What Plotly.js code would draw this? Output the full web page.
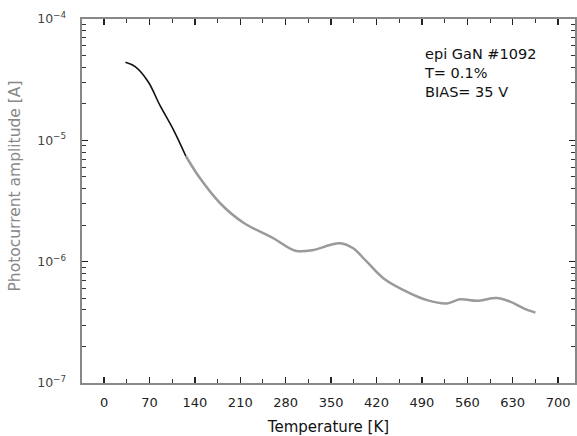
<!DOCTYPE html>
<html>
<head>
<meta charset="utf-8">
<script src="https://cdn.plot.ly/plotly-3.0.1.min.js"></script>
<style>html,body{margin:0;padding:0;background:#fff;}#chart{width:577px;height:436px;}</style>
</head>
<body>
<div id="chart"></div>
<script>
// Low-temperature segment (black)
const tempLow = [33, 48, 68, 86, 107, 126];
const ampLow = [4.40e-5, 4.05e-5, 3.04e-5, 1.95e-5, 1.22e-5, 7.43e-6];
// High-temperature segment (gray)
const tempHigh = [126, 148, 179, 215, 261, 295, 323, 348, 364, 384, 405, 431, 472, 498, 528, 549, 575, 605, 626, 647, 665];
const ampHigh = [7.43e-6, 4.86e-6, 3.03e-6, 2.09e-6, 1.56e-6, 1.23e-6, 1.25e-6, 1.37e-6, 1.42e-6, 1.29e-6, 1.0e-6, 7.28e-7, 5.48e-7, 4.82e-7, 4.53e-7, 4.90e-7, 4.76e-7, 5.01e-7, 4.68e-7, 4.12e-7, 3.80e-7];
const xTickStep = 70;
const yDecadeRange = [-7, -4];
const noteLines = ['epi GaN #1092', 'T= 0.1%', 'BIAS= 35 V'];
const yTitle = 'Photocurrent amplitude [A]';

const traces = [
  {x: tempHigh, y: ampHigh, mode: 'lines', line: {color: '#9a9a9a', width: 2.5, shape: 'spline'}, hoverinfo: 'skip'},
  {x: tempLow, y: ampLow, mode: 'lines', line: {color: '#111111', width: 1.6, shape: 'spline'}, hoverinfo: 'skip'}
];

const FONT = 'DejaVu Sans, Arial, sans-serif';

const layout = {
  width: 577, height: 436,
  margin: {l: 82, r: 2, t: 19, b: 53},
  paper_bgcolor: '#ffffff', plot_bgcolor: '#ffffff',
  showlegend: false,
  font: {family: FONT, color: '#222'},
  xaxis: {
    range: [-34, 726],
    tickmode: 'linear', tick0: 0, dtick: xTickStep,
    ticks: 'inside', ticklen: 6, tickcolor: '#222', tickwidth: 1.5,
    minor: {tickmode: 'linear', tick0: 0, dtick: xTickStep / 2, ticks: 'inside', ticklen: 4, tickcolor: '#333', tickwidth: 1, showgrid: false},
    showgrid: false, zeroline: false,
    showline: true, linecolor: '#888', linewidth: 2, mirror: 'allticks',
    tickfont: {size: 13, color: '#222', family: FONT},
    ticklabelstandoff: 6,
    title: {text: 'Temperature [K]', font: {size: 15, color: '#111', family: FONT}, standoff: 14}
  },
  yaxis: {
    type: 'log',
    range: yDecadeRange,
    tickmode: 'linear', tick0: 0, dtick: 1,
    exponentformat: 'power',
    ticks: 'inside', ticklen: 6, tickcolor: '#222', tickwidth: 1.5,
    minor: {dtick: 'D1', ticks: 'inside', ticklen: 4, tickcolor: '#333', tickwidth: 1, showgrid: false},
    showgrid: false, zeroline: false,
    showline: true, linecolor: '#888', linewidth: 2, mirror: 'allticks',
    tickfont: {size: 10, color: '#444', family: FONT},
    ticklabelstandoff: 12
  },
  annotations: [
    {
      xref: 'paper', yref: 'paper', x: 0.69, y: 0.93, xanchor: 'left', yanchor: 'top',
      align: 'left', showarrow: false,
      text: noteLines.join('<br>'),
      font: {size: 14.5, color: '#111', family: FONT}
    },
    {
      xref: 'paper', yref: 'paper', x: -0.135, y: 0.541, xanchor: 'center', yanchor: 'middle',
      textangle: -90, showarrow: false,
      text: yTitle,
      font: {size: 15.5, color: '#888', family: FONT}
    }
  ]
};

Plotly.newPlot('chart', traces, layout, {staticPlot: true});
</script>
</body>
</html>
